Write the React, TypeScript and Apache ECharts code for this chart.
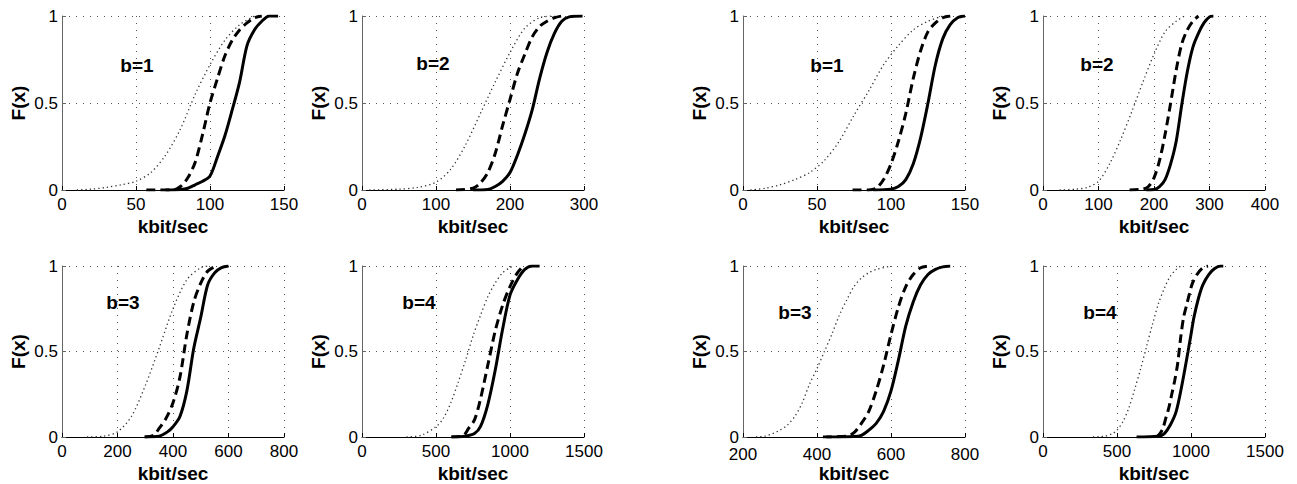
import React, { useEffect, useRef } from "react";
import * as echarts from "echarts";

// ---- data: [kbit/sec, F(x)] ----
const p1Dotted = [[10,0],[20,0.005],[30,0.015],[40,0.03],[50,0.05],[60,0.1],[70,0.2],[80,0.35],[90,0.55],[100,0.72],[110,0.86],[120,0.95],[130,1.0]];
const p1Dashed = [[57,0],[75,0],[80,0.02],[85,0.07],[90,0.16],[95,0.32],[100,0.5],[105,0.64],[110,0.77],[115,0.86],[120,0.92],[125,0.96],[130,0.99],[135,1.0]];
const p1Solid = [[70,0],[80,0.003],[85,0.01],[90,0.03],[95,0.05],[100,0.08],[105,0.19],[110,0.31],[115,0.46],[120,0.62],[125,0.83],[130,0.92],[135,0.97],[140,1.0],[146,1.0]];

const p2Dotted = [[10,0],[50,0.005],[75,0.015],[100,0.045],[120,0.12],[140,0.26],[160,0.44],[180,0.62],[200,0.79],[220,0.93],[240,0.99],[260,1.0]];
const p2Dashed = [[127,0],[150,0.01],[160,0.04],[170,0.1],[180,0.21],[190,0.37],[200,0.52],[210,0.67],[220,0.78],[230,0.88],[240,0.94],[250,0.97],[260,0.99],[270,1.0]];
const p2Solid = [[150,0],[170,0.003],[180,0.02],[190,0.05],[200,0.1],[210,0.2],[220,0.32],[230,0.46],[240,0.64],[250,0.79],[260,0.9],[270,0.97],[280,0.995],[298,1.0]];

const p3Dotted = [[90,0],[150,0.005],[200,0.03],[250,0.12],[300,0.3],[350,0.52],[400,0.75],[450,0.92],[500,0.99],[530,1.0]];
const p3Dashed = [[298,0],[330,0.01],[350,0.05],[375,0.11],[400,0.2],[425,0.35],[450,0.6],[475,0.79],[500,0.9],[525,0.97],[556,1.0]];
const p3Solid = [[298,0],[350,0.005],[380,0.03],[400,0.06],[425,0.12],[450,0.27],[475,0.52],[500,0.7],[525,0.89],[550,0.96],[575,0.99],[600,1.0]];

const p4Dotted = [[300,0],[400,0.01],[500,0.06],[550,0.11],[600,0.2],[650,0.32],[700,0.45],[750,0.59],[800,0.71],[850,0.82],[900,0.9],[950,0.96],[1000,0.99],[1030,1.0]];
const p4Dashed = [[604,0],[680,0.005],[720,0.05],[760,0.1],[800,0.22],[850,0.42],[900,0.62],[950,0.77],[1000,0.88],[1050,0.96],[1090,1.0]];
const p4Solid = [[604,0],[700,0.005],[760,0.02],[800,0.06],[850,0.19],[900,0.39],[950,0.63],[1000,0.83],[1050,0.92],[1100,0.98],[1150,1.0],[1200,1.0]];

const p5Dotted = [[5,0],[15,0.01],[25,0.03],[35,0.06],[45,0.1],[55,0.17],[65,0.28],[75,0.43],[85,0.57],[95,0.72],[105,0.83],[115,0.92],[125,0.97],[135,1.0]];
const p5Dashed = [[74,0],[85,0],[90,0.01],[95,0.06],[100,0.15],[105,0.28],[110,0.44],[115,0.64],[120,0.8],[125,0.91],[130,0.96],[135,0.99],[140,1.0]];
const p5Solid = [[88,0],[100,0.005],[105,0.02],[110,0.06],[115,0.15],[120,0.3],[125,0.5],[130,0.72],[135,0.87],[140,0.95],[145,0.99],[150,1.0]];

const p6Dotted = [[30,0],[60,0.005],[80,0.015],[100,0.05],[120,0.15],[140,0.29],[160,0.45],[180,0.62],[200,0.78],[220,0.91],[240,0.97],[255,1.0]];
const p6Dashed = [[156,0],[180,0.005],[190,0.02],[200,0.07],[210,0.17],[220,0.32],[230,0.5],[240,0.69],[250,0.84],[260,0.92],[270,0.97],[280,1.0]];
const p6Solid = [[186,0],[200,0.003],[210,0.02],[220,0.06],[230,0.15],[240,0.28],[250,0.49],[260,0.68],[270,0.82],[280,0.9],[290,0.96],[300,0.995],[307,1.0]];

const p7Dotted = [[235,0],[260,0.005],[280,0.02],[300,0.04],[320,0.07],[340,0.12],[360,0.2],[380,0.31],[400,0.4],[420,0.5],[440,0.6],[460,0.71],[480,0.8],[500,0.88],[520,0.93],[540,0.96],[560,0.98],[600,1.0]];
const p7Dashed = [[416,0],[480,0.005],[500,0.025],[520,0.08],[540,0.15],[560,0.27],[580,0.42],[600,0.6],[620,0.76],[640,0.88],[660,0.95],[680,0.99],[700,1.0]];
const p7Solid = [[425,0],[500,0.003],[520,0.01],[540,0.04],[560,0.08],[580,0.15],[600,0.27],[620,0.45],[640,0.65],[660,0.79],[680,0.89],[700,0.95],[720,0.98],[740,0.995],[760,1.0]];

const p8Dotted = [[338,0],[420,0.005],[470,0.02],[500,0.04],[540,0.09],[580,0.17],[620,0.28],[660,0.4],[700,0.53],[740,0.66],[780,0.78],[820,0.87],[860,0.94],[900,0.98],[930,1.0]];
const p8Dashed = [[767,0],[790,0.02],[810,0.05],[830,0.11],[850,0.17],[870,0.25],[890,0.33],[910,0.43],[930,0.58],[950,0.7],[970,0.77],[990,0.84],[1010,0.9],[1040,0.95],[1080,0.99],[1115,1.0]];
const p8Solid = [[632,0],[780,0.005],[820,0.02],[860,0.07],[900,0.15],[940,0.31],[980,0.5],[1000,0.6],[1020,0.7],[1050,0.81],[1080,0.89],[1120,0.95],[1160,0.985],[1200,1.0],[1218,1.0]];

const panelLabels = ["b=1", "b=2", "b=3", "b=4", "b=1", "b=2", "b=3", "b=4"];
const xMins = [0, 0, 0, 0, 0, 0, 200, 0];
const xMaxs = [150, 300, 800, 1500, 150, 400, 800, 1500];
const xIntervals = [50, 100, 200, 500, 50, 100, 200, 500];
const yTicks = [0, 0.5, 1];
const xName = "kbit/sec";
const yName = "F(x)";

const panelData = [
  [p1Dotted, p1Dashed, p1Solid],
  [p2Dotted, p2Dashed, p2Solid],
  [p3Dotted, p3Dashed, p3Solid],
  [p4Dotted, p4Dashed, p4Solid],
  [p5Dotted, p5Dashed, p5Solid],
  [p6Dotted, p6Dashed, p6Solid],
  [p7Dotted, p7Dashed, p7Solid],
  [p8Dotted, p8Dashed, p8Solid],
];

// layout
const gridLefts = [62, 362, 62, 362, 743, 1043, 743, 1043];
const gridTops = [16, 16, 266, 266, 16, 16, 266, 266];
const gridW = 222;
const gridH = 174;
const xLabelMargins = [7, 7, 7, 7, 7, 7, 10, 7];
const labelPos = [[137, 65], [433, 63], [123, 302], [419, 302], [827, 65], [1097, 64], [795, 312], [1100, 312]];

const FONT = "Liberation Sans, Arial, sans-serif";

export default function App() {
  const ref = useRef<HTMLDivElement>(null);
  useEffect(() => {
    document.body.style.margin = "0";
    const chart = echarts.init(ref.current!, null, { renderer: "svg" });
    const grids: any[] = [];
    const xAxes: any[] = [];
    const yAxes: any[] = [];
    const series: any[] = [];
    const graphics: any[] = [];
    for (let i = 0; i < 8; i++) {
      grids.push({ left: gridLefts[i], top: gridTops[i], width: gridW, height: gridH, containLabel: false });
      xAxes.push({
        type: "value",
        gridIndex: i,
        min: xMins[i],
        max: xMaxs[i],
        interval: xIntervals[i],
        name: xName,
        nameLocation: "middle",
        nameGap: 27,
        nameTextStyle: { fontFamily: FONT, fontWeight: "bold", fontSize: 19, color: "#000" },
        axisLine: { show: true, onZero: false, lineStyle: { color: "#000", width: 1 } },
        axisTick: { show: true, inside: true, length: 4, lineStyle: { color: "#000" } },
        axisLabel: {
          fontFamily: FONT, fontSize: 17, lineHeight: 14, color: "#000", margin: xLabelMargins[i],
          showMinLabel: true, showMaxLabel: true,
          formatter: (v: number) => String(v),
        },
        splitLine: { show: true, lineStyle: { color: "#555", type: [1, 6], width: 1 } },
      });
      yAxes.push({
        type: "value",
        gridIndex: i,
        min: 0,
        max: 1,
        interval: 0.5,
        name: yName,
        nameLocation: "middle",
        nameRotate: 90,
        nameGap: 34,
        nameTextStyle: { fontFamily: FONT, fontWeight: "bold", fontSize: 19, color: "#000" },
        axisLine: { show: true, lineStyle: { color: "#666", width: 1 } },
        axisTick: { show: true, inside: true, length: 4, lineStyle: { color: "#666" } },
        axisLabel: {
          fontFamily: FONT, fontSize: 17, lineHeight: 14, color: "#000", margin: 4,
          formatter: (v: number) => (yTicks.includes(v) ? String(v) : ""),
        },
        splitLine: { show: true, lineStyle: { color: "#555", type: [1, 6], width: 1 } },
      });
      const [dot, dash, sol] = panelData[i];
      series.push({
        type: "line", xAxisIndex: i, yAxisIndex: i, data: dot, showSymbol: false, symbol: "none",
        smooth: 0.3,
        lineStyle: { color: "#333", width: 1.3, type: [1.3, 3] },
      });
      series.push({
        type: "line", xAxisIndex: i, yAxisIndex: i, data: dash, showSymbol: false, symbol: "none",
        smooth: 0.3,
        lineStyle: { color: "#000", width: 3, type: [9, 5] },
      });
      series.push({
        type: "line", xAxisIndex: i, yAxisIndex: i, data: sol, showSymbol: false, symbol: "none",
        smooth: 0.3,
        lineStyle: { color: "#000", width: 3, type: "solid" },
      });
      graphics.push({
        type: "text",
        x: labelPos[i][0],
        y: labelPos[i][1],
        style: {
          text: panelLabels[i],
          fontFamily: FONT,
          fontWeight: "bold",
          fontSize: 19,
          fill: "#000",
          align: "center",
          verticalAlign: "middle",
        },
      });
    }
    chart.setOption({
      animation: false,
      backgroundColor: "#fff",
      grid: grids,
      xAxis: xAxes,
      yAxis: yAxes,
      series,
      graphic: graphics,
    });
    return () => chart.dispose();
  }, []);
  return <div ref={ref} style={{ width: 1297, height: 484 }} />;
}
